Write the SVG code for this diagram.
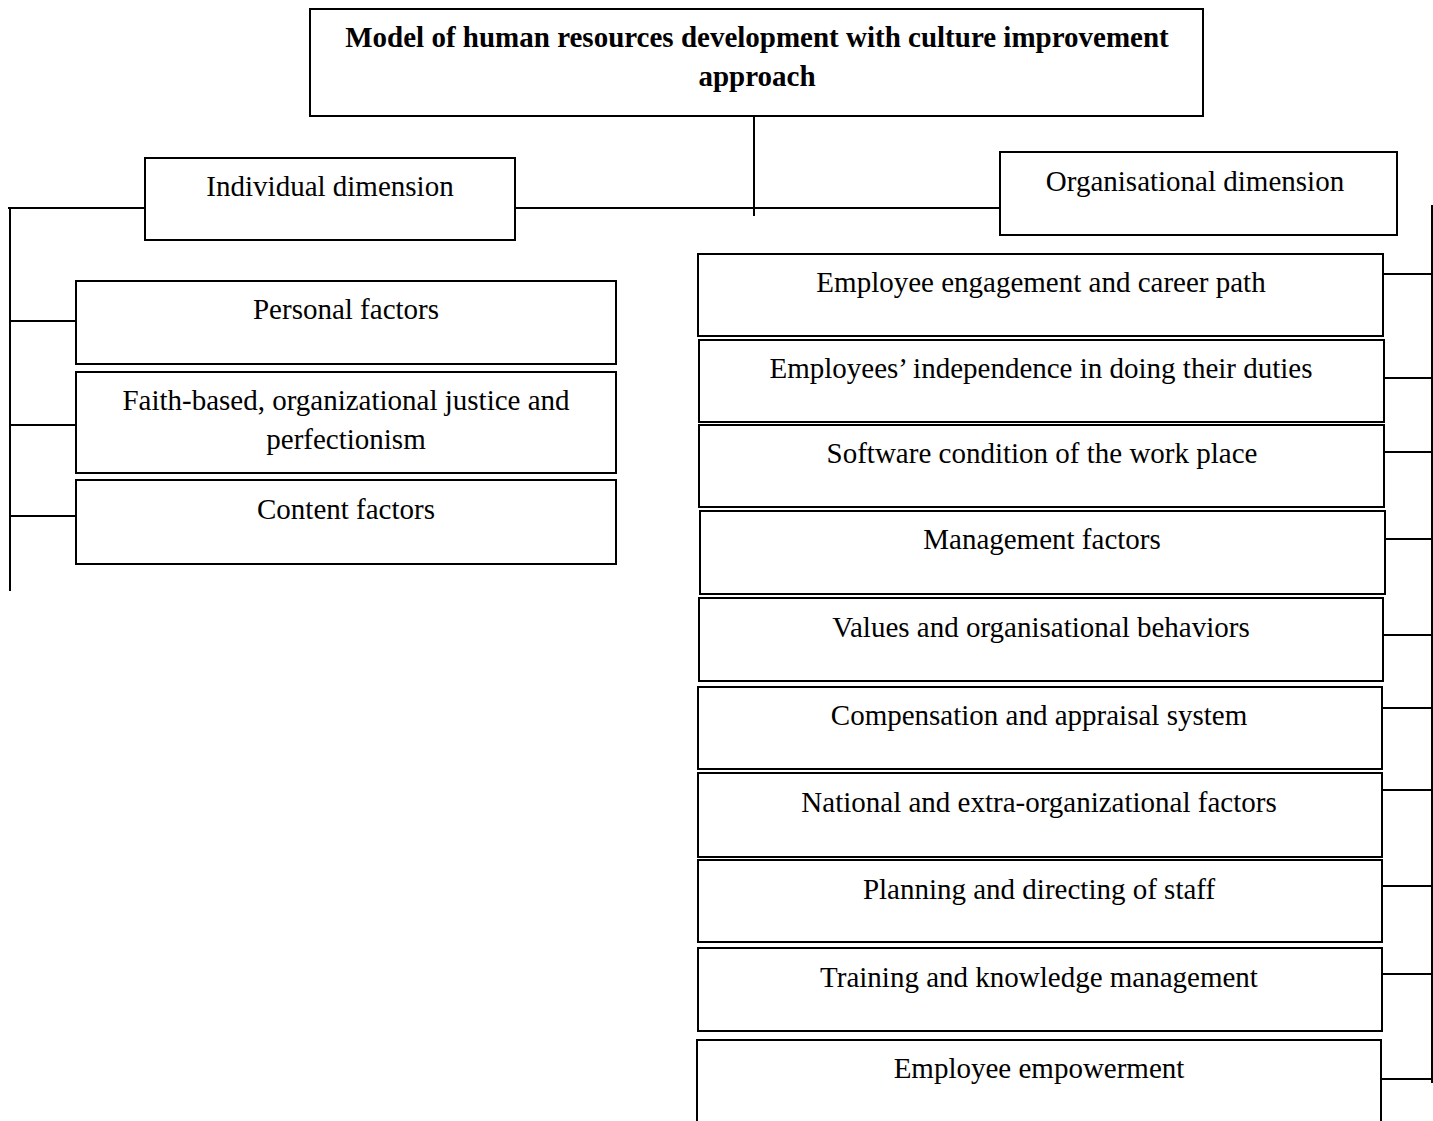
<svg xmlns="http://www.w3.org/2000/svg" width="1433" height="1121" viewBox="0 0 1433 1121">
<style>
.box{fill:#fff;stroke:#000;stroke-width:2}
.ln{stroke:#000;stroke-width:2;fill:none}
text{font-family:"Liberation Serif","Times New Roman",serif;font-size:29px;fill:#000;text-anchor:middle}
.b{font-weight:bold}
</style>
<rect width="1433" height="1121" fill="#fff"/>
<g id="connectors">
<line class="ln" x1="754" y1="116" x2="754" y2="216"/>
<line class="ln" x1="8" y1="208" x2="145" y2="208"/>
<line class="ln" x1="515" y1="208" x2="1000" y2="208"/>
<line class="ln" x1="10" y1="207" x2="10" y2="591"/>
<line class="ln" x1="10" y1="321" x2="76" y2="321"/>
<line class="ln" x1="10" y1="425" x2="76" y2="425"/>
<line class="ln" x1="10" y1="516" x2="76" y2="516"/>
<line class="ln" x1="1432" y1="205" x2="1432" y2="1083"/>
<line class="ln" x1="1383" y1="274" x2="1432" y2="274"/>
<line class="ln" x1="1383" y1="378" x2="1432" y2="378"/>
<line class="ln" x1="1384" y1="452" x2="1432" y2="452"/>
<line class="ln" x1="1385" y1="539" x2="1432" y2="539"/>
<line class="ln" x1="1383" y1="635" x2="1432" y2="635"/>
<line class="ln" x1="1382" y1="708" x2="1432" y2="708"/>
<line class="ln" x1="1380" y1="790" x2="1432" y2="790"/>
<line class="ln" x1="1378" y1="886" x2="1432" y2="886"/>
<line class="ln" x1="1382" y1="974" x2="1432" y2="974"/>
<line class="ln" x1="1381" y1="1079" x2="1432" y2="1079"/>
</g>
<g id="title"><rect class="box" x="310" y="9" width="893" height="107"/>
<text class="b" x="757" y="47">Model of human resources development with culture improvement</text>
<text class="b" x="757" y="86">approach</text></g>
<g id="individual"><rect class="box" x="145" y="158" width="370" height="82"/><text x="330" y="196">Individual dimension</text></g>
<g id="organisational"><rect class="box" x="1000" y="152" width="397" height="83"/><text x="1195" y="191">Organisational dimension</text></g>
<g id="personal"><rect class="box" x="76" y="281" width="540" height="83"/><text x="346" y="319">Personal factors</text></g>
<g id="faith"><rect class="box" x="76" y="372" width="540" height="101"/><text x="346" y="410">Faith-based, organizational justice and</text><text x="346" y="449">perfectionism</text></g>
<g id="content"><rect class="box" x="76" y="480" width="540" height="84"/><text x="346" y="519">Content factors</text></g>
<g id="r1"><rect class="box" x="698" y="254" width="685" height="82"/><text x="1041" y="292">Employee engagement and career path</text></g>
<g id="r2"><rect class="box" x="699" y="340" width="685" height="82"/><text x="1041" y="378">Employees’ independence in doing their duties</text></g>
<g id="r3"><rect class="box" x="699" y="425" width="685" height="82"/><text x="1042" y="463">Software condition of the work place</text></g>
<g id="r4"><rect class="box" x="700" y="511" width="685" height="83"/><text x="1042" y="549">Management factors</text></g>
<g id="r5"><rect class="box" x="699" y="598" width="684" height="83"/><text x="1041" y="637">Values and organisational behaviors</text></g>
<g id="r6"><rect class="box" x="698" y="687" width="684" height="82"/><text x="1039" y="725">Compensation and appraisal system</text></g>
<g id="r7"><rect class="box" x="698" y="773" width="684" height="84"/><text x="1039" y="812">National and extra-organizational factors</text></g>
<g id="r8"><rect class="box" x="698" y="860" width="684" height="82"/><text x="1039" y="899">Planning and directing of staff</text></g>
<g id="r9"><rect class="box" x="698" y="948" width="684" height="83"/><text x="1039" y="987">Training and knowledge management</text></g>
<g id="r10"><rect class="box" x="697" y="1040" width="684" height="100"/><text x="1039" y="1078">Employee empowerment</text></g>
</svg>
